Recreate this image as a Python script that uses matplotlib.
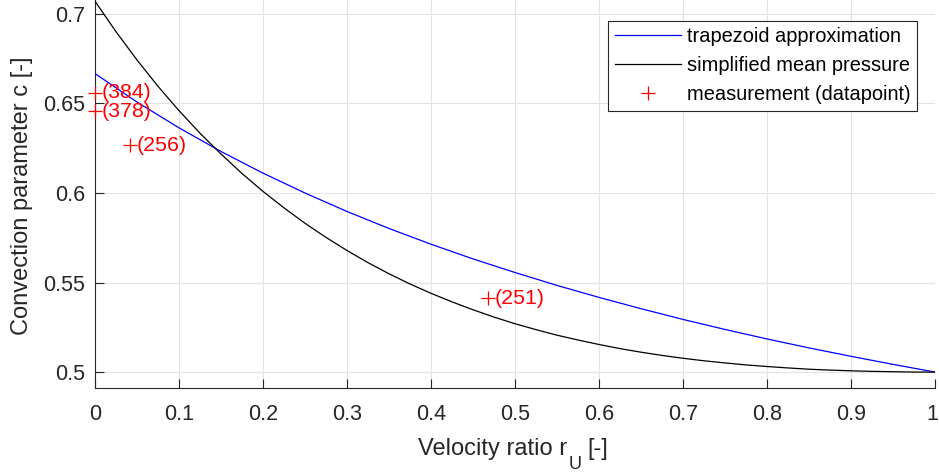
import matplotlib
matplotlib.use("Agg")
import matplotlib.pyplot as plt
from matplotlib.transforms import ScaledTranslation

plt.rcParams['font.family'] = ['Liberation Sans', 'DejaVu Sans']

# Data
r_trap = [0.0, 0.05, 0.1, 0.15, 0.2, 0.25, 0.3, 0.35, 0.4, 0.45, 0.5,
          0.55, 0.6, 0.65, 0.7, 0.75, 0.8, 0.85, 0.9, 0.95, 1.0]
c_trapezoid = [0.6667, 0.6508, 0.6364, 0.6232, 0.6111, 0.6000, 0.5897, 0.5802,
               0.5714, 0.5632, 0.5556, 0.5484, 0.5417, 0.5354, 0.5294, 0.5238,
               0.5185, 0.5135, 0.5088, 0.5043, 0.5000]
r_mean = [0.0, 0.025, 0.05, 0.075, 0.1, 0.125, 0.15, 0.175, 0.2, 0.225, 0.25,
          0.275, 0.3, 0.325, 0.35, 0.375, 0.4, 0.425, 0.45, 0.475, 0.5,
          0.525, 0.55, 0.575, 0.6, 0.625, 0.65, 0.675, 0.7, 0.725, 0.75,
          0.775, 0.8, 0.825, 0.85, 0.875, 0.9, 0.925, 0.95, 0.975, 1.0]
c_mean_pressure = [0.7071, 0.6901, 0.6743, 0.6596, 0.6460, 0.6334, 0.6218, 0.6109,
                   0.6009, 0.5917, 0.5831, 0.5752, 0.5679, 0.5611, 0.5549, 0.5492,
                   0.5440, 0.5392, 0.5348, 0.5307, 0.5270, 0.5237, 0.5206, 0.5179,
                   0.5154, 0.5131, 0.5111, 0.5093, 0.5077, 0.5063, 0.5051, 0.5040,
                   0.5031, 0.5023, 0.5016, 0.5011, 0.5007, 0.5004, 0.5002, 0.5000,
                   0.5000]
meas_r = [0.0, 0.0, 0.042, 0.468]
meas_c = [0.6559, 0.6458, 0.6268, 0.5413]
meas_labels = ['(384)', '(378)', '(256)', '(251)']

x_ticks = [0, 0.1, 0.2, 0.3, 0.4, 0.5, 0.6, 0.7, 0.8, 0.9, 1]
x_tick_labels = ['0', '0.1', '0.2', '0.3', '0.4', '0.5', '0.6', '0.7', '0.8', '0.9', '1']
y_ticks = [0.5, 0.55, 0.6, 0.65, 0.7]
y_tick_labels = ['0.5', '0.55', '0.6', '0.65', '0.7']

dark = '#262626'
W, H = 939, 472

fig = plt.figure(figsize=(W / 100, H / 100), dpi=100)
ax = fig.add_axes([95 / W, 1 - 388 / H, 840 / W, 388 / H])

ax.plot(r_trap, c_trapezoid, color='#0000ff', lw=0.9, label='trapezoid approximation', zorder=3)
ax.plot(r_mean, c_mean_pressure, color='black', lw=0.9, label='simplified mean pressure', zorder=3)
ax.plot(meas_r, meas_c, linestyle='none', marker='+', color='#ff0000', markersize=9.5,
        markeredgewidth=0.9, label='measurement (datapoint)', zorder=4, clip_on=False)
for xr, yc, lab in zip(meas_r, meas_c, meas_labels):
    ax.annotate(lab, (xr, yc), xytext=(4.5, 0), textcoords='offset points',
                va='center', ha='left', color='#ff0000', fontsize=15.4, zorder=5)

ax.set_xlim(0, 1)
ax.set_ylim(0.4911, 0.7078)
ax.set_xticks(x_ticks)
ax.set_xticklabels(x_tick_labels)
ax.set_yticks(y_ticks)
ax.set_yticklabels(y_tick_labels)

ax.grid(True, color='#e3e3e3', lw=0.8, zorder=0)
ax.set_axisbelow(True)
for s in ['top', 'right']:
    ax.spines[s].set_visible(False)
for s in ['left', 'bottom']:
    ax.spines[s].set_color(dark)
    ax.spines[s].set_linewidth(0.8)
ax.tick_params(direction='in', length=6.5, width=0.8, color=dark, labelcolor=dark,
               labelsize=15.5)
ax.tick_params(axis='x', pad=11.5)
ax.tick_params(axis='y', pad=7)

# keep the last x tick label inside the figure edge (as in the reference)
last_lbl = ax.xaxis.get_major_ticks()[-1].label1
last_lbl.set_transform(last_lbl.get_transform() +
                       ScaledTranslation(-2.5 / 100, 0, fig.dpi_scale_trans))

# y label
fig.text(22.5 / W, 1 - 196 / H, 'Convection parameter c [-]', rotation=90,
         ha='center', va='center', fontsize=17, color=dark)

# x label with MATLAB-like low subscript, built from pieces
fs_main, fs_sub = 17, 13
renderer = fig.canvas.get_renderer()
p1 = fig.text(0, 0, 'Velocity ratio r', fontsize=fs_main, color=dark, va='baseline')
p2 = fig.text(0, 0, 'U', fontsize=fs_sub, color=dark, va='baseline')
p3 = fig.text(0, 0, '[-]', fontsize=fs_main, color=dark, va='baseline')
w1 = p1.get_window_extent(renderer).width
w2 = p2.get_window_extent(renderer).width
w3 = p3.get_window_extent(renderer).width
gap1, gap2 = 1, 6
total = w1 + gap1 + w2 + gap2 + w3
x0 = 513 - total / 2
base_main = H - 455
base_sub = H - 469
p1.set_position((x0 / W, base_main / H))
p2.set_position(((x0 + w1 + gap1) / W, base_sub / H))
p3.set_position(((x0 + w1 + gap1 + w2 + gap2) / W, base_main / H))

leg = ax.legend(loc='upper right', bbox_to_anchor=(917 / W, 1 - 20.5 / H),
                bbox_transform=fig.transFigure, fancybox=False, framealpha=1,
                edgecolor=dark, fontsize=14.4, handlelength=3.3, handletextpad=0.3,
                borderpad=0.33, labelspacing=0.5, borderaxespad=0)
leg.get_frame().set_linewidth(0.8)

fig.savefig('out.png', dpi=100)
